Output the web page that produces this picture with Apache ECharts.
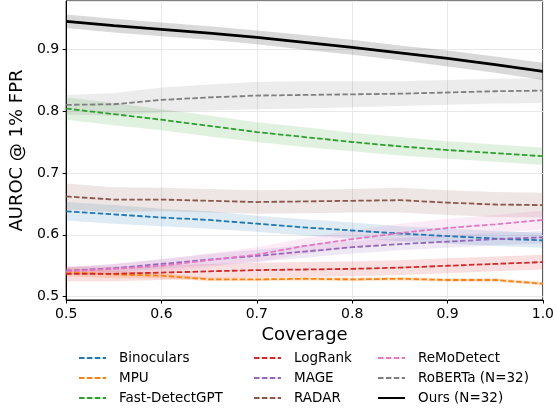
<!DOCTYPE html>
<html>
<head>
<meta charset="utf-8">
<script src="https://cdn.jsdelivr.net/npm/echarts@6/dist/echarts.min.js"></script>
<style>
html,body{margin:0;padding:0;background:#fff;}
#canvas{width:557px;height:409px;}
</style>
</head>
<body>
<div id="canvas"></div>
<script>
var coverage = [0.5, 0.55, 0.6, 0.65, 0.7, 0.75, 0.8, 0.85, 0.9, 0.95, 1.0];

var binoculars = [0.638, 0.633, 0.628, 0.624, 0.618, 0.612, 0.607, 0.602, 0.598, 0.594, 0.591];
var mpu = [0.540, 0.536, 0.534, 0.528, 0.528, 0.529, 0.528, 0.529, 0.527, 0.527, 0.521];
var fastDetect = [0.804, 0.795, 0.786, 0.776, 0.766, 0.758, 0.750, 0.743, 0.737, 0.732, 0.727];
var logRank = [0.537, 0.537, 0.539, 0.541, 0.543, 0.544, 0.545, 0.547, 0.550, 0.553, 0.556];
var mage = [0.542, 0.546, 0.553, 0.560, 0.566, 0.573, 0.580, 0.585, 0.589, 0.593, 0.596];
var radar = [0.662, 0.657, 0.657, 0.655, 0.653, 0.654, 0.655, 0.656, 0.652, 0.649, 0.648];
var remo = [0.541, 0.545, 0.550, 0.559, 0.568, 0.582, 0.593, 0.603, 0.611, 0.617, 0.624];
var roberta = [0.810, 0.811, 0.818, 0.822, 0.825, 0.826, 0.827, 0.828, 0.830, 0.832, 0.833];
var ours = [0.945, 0.938, 0.932, 0.926, 0.919, 0.911, 0.903, 0.894, 0.885, 0.875, 0.864];

// half width of the shaded bands
var binocularsSd = [0.015, 0.015, 0.014, 0.014, 0.013, 0.013, 0.013, 0.012, 0.012, 0.012, 0.012];
var mpuSd = [0.007, 0.006, 0.004, 0.003, 0.003, 0.003, 0.003, 0.003, 0.003, 0.003, 0.003];
var fastDetectSd = [0.018, 0.018, 0.017, 0.017, 0.016, 0.016, 0.015, 0.015, 0.014, 0.014, 0.014];
var logRankSd = [0.012, 0.012, 0.012, 0.012, 0.012, 0.012, 0.012, 0.012, 0.012, 0.012, 0.012];
var mageSd = [0.006, 0.007, 0.008, 0.009, 0.010, 0.010, 0.010, 0.010, 0.010, 0.010, 0.010];
var radarSd = [0.021, 0.020, 0.019, 0.019, 0.019, 0.019, 0.019, 0.020, 0.020, 0.020, 0.020];
var remoSd = [0.006, 0.008, 0.010, 0.011, 0.012, 0.013, 0.014, 0.015, 0.015, 0.015, 0.015];
var robertaSd = [0.016, 0.018, 0.020, 0.021, 0.022, 0.022, 0.021, 0.020, 0.020, 0.020, 0.020];
var oursSd = [0.011, 0.011, 0.011, 0.011, 0.011, 0.012, 0.012, 0.012, 0.013, 0.013, 0.014];

var series = [];

function hexToRgba(hex, a){
    var r = parseInt(hex.substr(1,2),16);
    var g = parseInt(hex.substr(3,2),16);
    var b = parseInt(hex.substr(5,2),16);
    return 'rgba('+r+','+g+','+b+','+a+')';
}

function addMethod(name, color, mean, sd, width, dashed, bandAlpha){
    var rows = [], line = [];
    for(var i=0;i<coverage.length;i++){
        rows.push([coverage[i], mean[i]-sd[i], mean[i]+sd[i]]);
        line.push([coverage[i], mean[i]]);
    }
    var fill = hexToRgba(color, bandAlpha);
    // shaded band drawn as one polygon through the axis scale
    series.push({
        type:'custom', data:rows, silent:true, z:1,
        encode:{x:0, y:[1,2]},
        renderItem:function(params, api){
            if(params.dataIndex !== 0) return null;
            var pts = [];
            for(var j=0;j<rows.length;j++) pts.push(api.coord([rows[j][0], rows[j][2]]));
            for(var k=rows.length-1;k>=0;k--) pts.push(api.coord([rows[k][0], rows[k][1]]));
            return {type:'polygon', shape:{points:pts}, style:{fill:fill, stroke:null}};
        }
    });
    series.push({
        name:name, type:'line', data:line, symbol:'none', z:3,
        lineStyle:{color:color, width:width, type: dashed ? [5.5,2.4] : 'solid'},
        itemStyle:{color:color}
    });
}

addMethod('Binoculars', '#1f77b4', binoculars, binocularsSd, 1.8, true, 0.15);
addMethod('MPU', '#ff7f0e', mpu, mpuSd, 1.8, true, 0.2);
addMethod('Fast-DetectGPT', '#2ca02c', fastDetect, fastDetectSd, 1.8, true, 0.15);
addMethod('LogRank', '#d62728', logRank, logRankSd, 1.8, true, 0.15);
addMethod('MAGE', '#9467bd', mage, mageSd, 1.8, true, 0.15);
addMethod('RADAR', '#8c564b', radar, radarSd, 1.8, true, 0.15);
addMethod('ReMoDetect', '#e377c2', remo, remoSd, 1.8, true, 0.15);
addMethod('RoBERTa (N=32)', '#7f7f7f', roberta, robertaSd, 1.8, true, 0.15);
addMethod('Ours (N=32)', '#000000', ours, oursSd, 2.8, false, 0.15);

function legendCol(left, names){
    return {
        orient:'vertical', left:left, top:351, height:100, padding:0,
        itemWidth:27, itemHeight:14, itemGap:6,
        data:names,
        itemStyle:{opacity:0},
        textStyle:{fontFamily:'DejaVu Sans', fontSize:13.5, lineHeight:14, color:'#000', padding:[0,0,0,8]}
    };
}

var myChart = echarts.init(document.getElementById('canvas'));
myChart.setOption({
    animation:false,
    backgroundColor:'#fff',
    grid:{left:63, right:11.5, top:1, bottom:109, show:true, borderColor:'#000', borderWidth:1},
    legend:[
        legendCol(78, ['Binoculars','MPU','Fast-DetectGPT']),
        legendCol(253, ['LogRank','MAGE','RADAR']),
        legendCol(377, ['ReMoDetect','RoBERTa (N=32)','Ours (N=32)'])
    ],
    xAxis:{
        type:'value', min:0.5, max:1.0, interval:0.1,
        name:'Coverage', nameLocation:'middle', nameGap:24,
        nameTextStyle:{fontFamily:'DejaVu Sans', fontSize:18, color:'#000'},
        axisLine:{lineStyle:{color:'#000', width:1}},
        axisTick:{show:true, length:3.5, lineStyle:{color:'#000'}},
        axisLabel:{fontFamily:'DejaVu Sans', fontSize:14, color:'#000', margin:7,
            formatter:function(v){return v.toFixed(1);}},
        splitLine:{show:true, lineStyle:{color:'#e8e8e8', width:1}}
    },
    yAxis:{
        type:'value', min:0.4947, max:0.9778, splitNumber:5,
        name:'AUROC @ 1% FPR', nameLocation:'middle', nameGap:38,
        nameTextStyle:{fontFamily:'DejaVu Sans', fontSize:18, color:'#000'},
        axisLine:{show:true, lineStyle:{color:'#000', width:1}},
        axisTick:{show:true, length:3.5, lineStyle:{color:'#000'}},
        axisLabel:{fontFamily:'DejaVu Sans', fontSize:14, color:'#000', margin:7,
            showMinLabel:false, showMaxLabel:false,
            formatter:function(v){return v.toFixed(1);}},
        splitLine:{show:true, lineStyle:{color:'#e8e8e8', width:1}}
    },
    series:series
});
</script>
</body>
</html>
